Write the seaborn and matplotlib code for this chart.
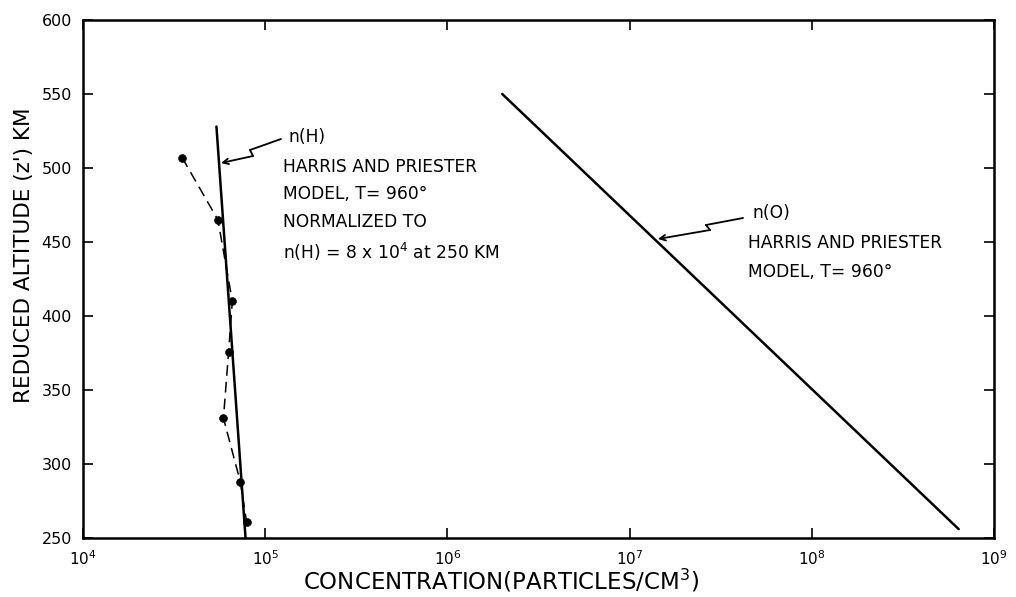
import numpy as np
import pandas as pd
import matplotlib
matplotlib.use("Agg")
import matplotlib.pyplot as plt
import seaborn as sns

# ---- data ----
nh_model_conc = [7.8e4, 5.4e4]
nh_model_alt = [250, 528]

nh_obs_conc = [3.5e4, 5.5e4, 6.6e4, 6.3e4, 5.9e4, 7.3e4, 7.9e4]
nh_obs_alt = [507, 465, 410, 376, 331, 288, 261]

no_model_conc = [2.0e6, 6.4e8]
no_model_alt = [550, 256]

x_ticks = [1e4, 1e5, 1e6, 1e7, 1e8, 1e9]
x_tick_labels = ["10$^{4}$", "10$^{5}$", "10$^{6}$", "10$^{7}$", "10$^{8}$", "10$^{9}$"]
y_ticks = [250, 300, 350, 400, 450, 500, 550, 600]

sns.set_style("ticks")
plt.rcParams["font.family"] = ["DejaVu Sans"]
plt.rcParams["mathtext.default"] = "regular"

W, H = 1016, 597
fig = plt.figure(figsize=(W / 100, H / 100), dpi=100)
ax = fig.add_axes([83 / W, 1 - 538 / H, (994 - 83) / W, (538 - 20) / H])

df_h = pd.DataFrame({"conc": nh_model_conc, "alt": nh_model_alt})
df_obs = pd.DataFrame({"conc": nh_obs_conc, "alt": nh_obs_alt})
df_o = pd.DataFrame({"conc": no_model_conc, "alt": no_model_alt})

sns.lineplot(data=df_h, x="conc", y="alt", sort=False, estimator=None,
             color="black", lw=1.8, ax=ax)
sns.lineplot(data=df_obs, x="conc", y="alt", sort=False, estimator=None,
             color="black", lw=1.1, ax=ax)
ax.lines[-1].set_dashes((7, 4))
sns.scatterplot(data=df_obs, x="conc", y="alt", color="black", s=32,
                edgecolor="black", ax=ax, zorder=5)
sns.lineplot(data=df_o, x="conc", y="alt", sort=False, estimator=None,
             color="black", lw=1.8, ax=ax)

ax.set_xscale("log")
ax.set_xlim(1e4, 1e9)
ax.set_ylim(250, 600)
ax.set_xticks(x_ticks)
ax.set_xticklabels(x_tick_labels, fontsize=11)
ax.xaxis.set_minor_locator(matplotlib.ticker.NullLocator())
ax.set_yticks(y_ticks)
ax.set_yticklabels([str(v) for v in y_ticks], fontsize=11.5)
ax.tick_params(axis="both", which="major", direction="in", length=7, width=1.2,
               top=True, right=True, pad=8, colors="black")
for s in ax.spines.values():
    s.set_linewidth(1.8)
    s.set_color("black")

ax.set_xlabel("CONCENTRATION(PARTICLES/CM$^{3}$)", fontsize=16.5, color="black")
ax.set_ylabel("REDUCED ALTITUDE (z') KM", fontsize=15.5, color="black")
ax.xaxis.set_label_coords(0.459, -0.056)
ax.yaxis.set_label_coords(-0.054, 0.545)


def fp(px, py):
    return (px, H - py)


# zigzag leader arrows
def bolt(points):
    for (a, b) in zip(points[:-2], points[1:-1]):
        ax.annotate("", xy=fp(*b), xycoords="figure pixels", xytext=fp(*a),
                    textcoords="figure pixels",
                    arrowprops=dict(arrowstyle="-", color="black", lw=1.3,
                                    shrinkA=0, shrinkB=0))
    ax.annotate("", xy=fp(*points[-1]), xycoords="figure pixels",
                xytext=fp(*points[-2]), textcoords="figure pixels",
                arrowprops=dict(arrowstyle="->", color="black", lw=1.3,
                                shrinkA=0, shrinkB=0, mutation_scale=10))


bolt([(281, 139), (250, 150), (253, 156), (221, 163)])
bolt([(743, 218), (706, 225), (710, 230), (658, 239)])

txt = dict(xycoords="figure pixels", fontsize=12.3, va="center", ha="left",
           color="black")
ax.annotate("n(H)", fp(289, 137), **txt)
ax.annotate("HARRIS AND PRIESTER", fp(283, 167), **txt)
ax.annotate("MODEL, T= 960°", fp(283, 194), **txt)
ax.annotate("NORMALIZED TO", fp(283, 222), **txt)
ax.annotate("n(H) = 8 x 10$^{4}$ at 250 KM", fp(283, 252), **txt)

ax.annotate("n(O)", fp(752, 213), **txt)
ax.annotate("HARRIS AND PRIESTER", fp(748, 243), **txt)
ax.annotate("MODEL, T= 960°", fp(748, 272), **txt)

fig.savefig("out.png", dpi=100)
